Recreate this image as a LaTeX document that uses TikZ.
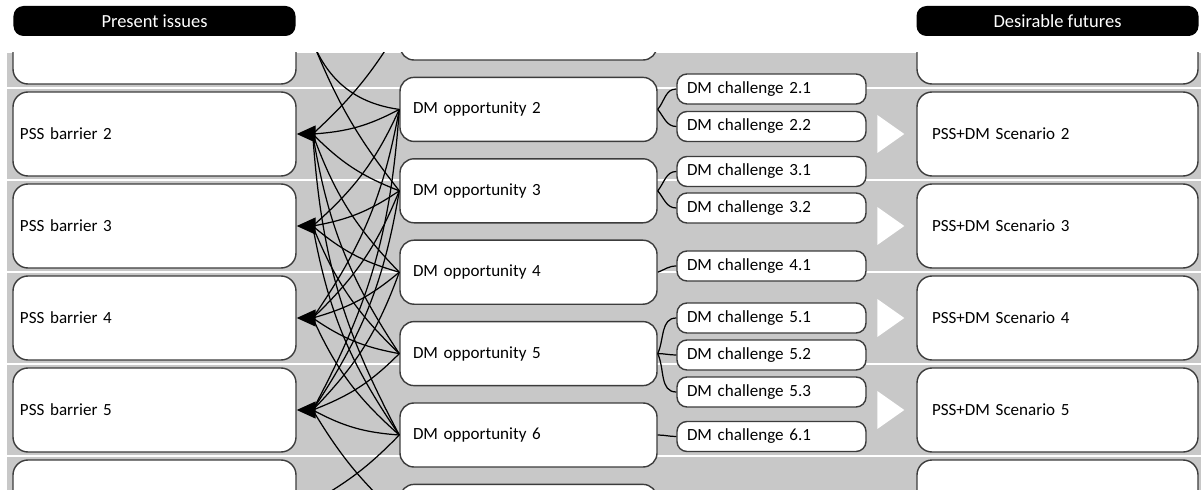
\documentclass[tikz,border=0pt]{standalone}
\usepackage{fontspec}
\setmainfont{Carlito}
\usetikzlibrary{arrows.meta}
\definecolor{bandgray}{RGB}{200,200,200}
\definecolor{edgegray}{RGB}{60,60,60}

\tikzset{
  pill/.style={fill=black, text=white, rounded corners=2mm, minimum width=56.4mm,
               minimum height=6mm, inner sep=0pt, font=\fontsize{10.5}{12.6}\selectfont},
  barrier/.style={draw=edgegray, line width=0.8pt, fill=white, rounded corners=3mm,
                  text width=53.8mm, inner xsep=1.4mm, minimum height=16.8mm, align=left},
  opp/.style={draw=edgegray, line width=0.8pt, fill=white, rounded corners=2.8mm,
              text width=46.2mm, inner xsep=2.6mm, minimum height=12.8mm, align=left},
  chal/.style={draw=edgegray, line width=0.8pt, fill=white, rounded corners=2mm,
               text width=33.8mm, inner xsep=2mm, minimum height=6mm, align=left},
  scen/.style={draw=edgegray, line width=0.8pt, fill=white, rounded corners=3mm,
               text width=50.2mm, inner xsep=3mm, minimum height=16.8mm, align=left},
  link/.style={line width=0.7pt},
  branch/.style={line width=0.7pt},
  sep/.style={white, line width=1.5pt}
}

\begin{document}
\begin{tikzpicture}[x=0.2mm, y=0.2mm, font=\fontsize{9.7}{11.6}\selectfont]
  \useasboundingbox (0,0) rectangle (1201,-490);
  \fill[white] (0,0) rectangle (1201,-490);

  % headers
  \node[pill] (present) at (154.5,-21) {Present issues};
  \node[pill] (futures) at (1057.5,-21) {Desirable futures};

  % grey band with white row separators
  \fill[bandgray] (7,-53) rectangle (1201,-490);
  \foreach \y in {88,180,272,364,456}
    \draw[sep] (7,-\y) -- (1201,-\y);

  \begin{scope}
  \clip (7,-53) rectangle (1201,-490);

  % PSS barriers
  \node[barrier] (b1) at (154.5,-42) {};
  \node[barrier] (b2) at (154.5,-134) {PSS barrier 2};
  \node[barrier] (b3) at (154.5,-226) {PSS barrier 3};
  \node[barrier] (b4) at (154.5,-318) {PSS barrier 4};
  \node[barrier] (b5) at (154.5,-410) {PSS barrier 5};
  \node[barrier] (b6) at (154.5,-502) {};

  % DM opportunities
  \node[opp] (o1) at (528.5,-28) {};
  \node[opp] (o2) at (528.5,-109.4) {DM opportunity 2};
  \node[opp] (o3) at (528.5,-190.8) {DM opportunity 3};
  \node[opp] (o4) at (528.5,-272.2) {DM opportunity 4};
  \node[opp] (o5) at (528.5,-353.6) {DM opportunity 5};
  \node[opp] (o6) at (528.5,-435) {DM opportunity 6};
  \node[opp] (o7) at (528.5,-516.4) {};

  % DM challenges
  \node[chal] (c21) at (771.5,-89) {DM challenge 2.1};
  \node[chal] (c22) at (771.5,-126.5) {DM challenge 2.2};
  \node[chal] (c31) at (771.5,-171.5) {DM challenge 3.1};
  \node[chal] (c32) at (771.5,-208) {DM challenge 3.2};
  \node[chal] (c41) at (771.5,-266) {DM challenge 4.1};
  \node[chal] (c51) at (771.5,-318) {DM challenge 5.1};
  \node[chal] (c52) at (771.5,-355) {DM challenge 5.2};
  \node[chal] (c53) at (771.5,-392) {DM challenge 5.3};
  \node[chal] (c61) at (771.5,-436.5) {DM challenge 6.1};

  % scenarios
  \node[scen] (s1) at (1057.5,-42) {};
  \node[scen] (s2) at (1057.5,-134) {PSS+DM Scenario 2};
  \node[scen] (s3) at (1057.5,-226) {PSS+DM Scenario 3};
  \node[scen] (s4) at (1057.5,-318) {PSS+DM Scenario 4};
  \node[scen] (s5) at (1057.5,-410) {PSS+DM Scenario 5};
  \node[scen] (s6) at (1057.5,-502) {};

  % white flow triangles
  \foreach \i in {2,...,5}
    \fill[white] (s\i.west) ++(-12,0) -- ++(-27,19) -- ++(0,-38) -- cycle;

  % opportunity -> challenges
  \draw[branch] (o2.east) to[out=50,in=180] (c21.west);
  \draw[branch] (o2.east) to[out=-50,in=180] (c22.west);
  \draw[branch] (o3.east) to[out=50,in=180] (c31.west);
  \draw[branch] (o3.east) to[out=-50,in=180] (c32.west);
  \draw[branch] (o4.east) to[out=20,in=180] (c41.west);
  \draw[branch] (o5.east) to[out=65,in=180] (c51.west);
  \draw[branch] (o5.east) to[out=0,in=180] (c52.west);
  \draw[branch] (o5.east) to[out=-65,in=180] (c53.west);
  \draw[branch] (o6.east) to[out=0,in=180] (c61.west);

  % opportunities -> barriers
  \foreach \i in {1,...,6}
    \coordinate (h\i) at ([xshift=3.2mm]b\i.east);
  \foreach \i in {2,...,5}
    \foreach \j in {2,...,6}
      \draw[link] (h\i) to[bend right=12] (o\j.west);
  \draw[link] (h1) to[bend right=30] (o2.west);
  \draw[link] (h1) to[bend right=8] (o3.west);
  \draw[link] (h2) to[bend right=8] (o1.west);
  \draw[link] (h5) to[bend right=8] (o7.west);
  \draw[link] (h6) to[bend right=8] (o6.west);
  \foreach \i in {2,...,5}
    \draw[link, -{Triangle[length=3.8mm,width=3.4mm]}] (h\i) -- (b\i.east);
  \end{scope}
\end{tikzpicture}
\end{document}
